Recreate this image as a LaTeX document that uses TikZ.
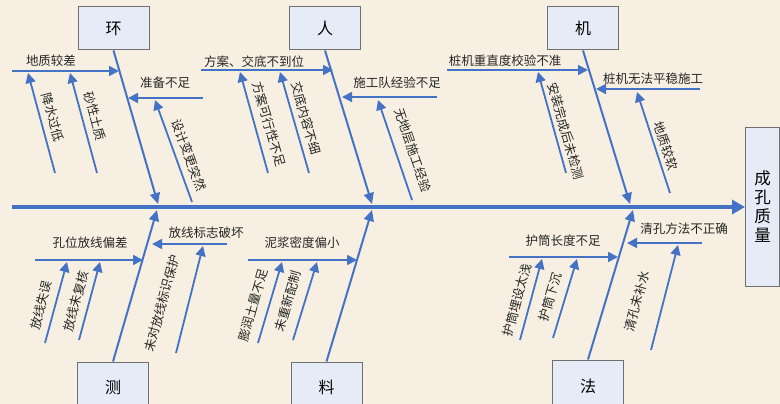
\documentclass[tikz,border=0pt]{standalone}
\usepackage{fontspec}
\newfontfamily\cjk{Noto Sans CJK SC}
\usetikzlibrary{arrows.meta}
\definecolor{fishblue}{RGB}{68,114,196}
\definecolor{boxfill}{RGB}{229,236,247}
\definecolor{boxline}{RGB}{112,112,112}
\definecolor{bgbeige}{RGB}{247,240,226}
\begin{document}
\begin{tikzpicture}[x=1pt,y=-1pt,
  bone/.style={draw=fishblue, line width=1.8pt, -{Triangle[length=10pt,width=10pt]}},
  mainbone/.style={draw=fishblue, line width=2pt, -{Triangle[length=11pt,width=10pt]}},
  spine/.style={draw=fishblue, line width=3.5pt, -{Triangle[length=13pt,width=14pt]}},
  lab/.style={font=\cjk\fontsize{12.5}{14}\selectfont, inner sep=0pt, text=black!85},
  catbox/.style={draw=boxline, fill=boxfill, line width=1pt, minimum width=71pt, minimum height=43pt, inner sep=0pt, font=\cjk\fontsize{16}{18}\selectfont},
  effbox/.style={draw=boxline, fill=boxfill, line width=1pt, minimum width=34pt, minimum height=159pt, inner sep=0pt, align=center, font=\cjk\fontsize{16.5}{19}\selectfont}
]
\useasboundingbox (0,0) rectangle (780,404);
\clip (0,0) rectangle (780,404);
\fill[bgbeige] (0,0) rectangle (780,404);

% category boxes
\node[catbox] (huan) at (113.5,28.5) {环};
\node[catbox] (ren)  at (325,28.5) {人};
\node[catbox] (ji)   at (583,28.5) {机};
\node[catbox, minimum height=50pt] (ce)  at (113,387) {测};
\node[catbox, minimum height=50pt] (liao) at (326.5,387) {料};
\node[catbox, minimum height=52pt] (fa)  at (588,386) {法};
\node[effbox] (eff) at (762.5,207) {成\\孔\\质\\量};

% spine
\coordinate (s0) at (12,207);
\draw[spine] (s0) -- (eff.west);

% main bones
\coordinate (hE) at (158,204);
\coordinate (rE) at (372,204);
\coordinate (jE) at (630,204);
\coordinate (cE) at (157,210);
\coordinate (lE) at (372,210);
\coordinate (fE) at (633,210);
\draw[mainbone] (huan.south) -- (hE);
\draw[mainbone] (ren.south) -- (rE);
\draw[mainbone] (ji.south) -- (jE);
\draw[mainbone] (ce.north) -- (cE);
\draw[mainbone] (liao.north) -- (lE);
\draw[mainbone] (fa.north) -- (fE);

% ===== 环 =====
\coordinate (a1s) at (12,71);   \coordinate (a1e) at (119,71);
\draw[bone] (a1s) -- (a1e);
\node[lab] (ta1) at (51,61) {地质较差};
\coordinate (a1as) at (55,173); \coordinate (a1ae) at (28,73);
\draw[bone] (a1as) -- (a1ae);
\node[lab, rotate=-75] (ta1a) at (53,117) {降水过低};
\coordinate (a1bs) at (97,173); \coordinate (a1be) at (70,73);
\draw[bone] (a1bs) -- (a1be);
\node[lab, rotate=-75] (ta1b) at (95,116) {砂性土质};
\coordinate (a2s) at (203,98);  \coordinate (a2e) at (128,98);
\draw[bone] (a2s) -- (a2e);
\node[lab] (ta2) at (165,83) {准备不足};
\coordinate (a2as) at (192,202); \coordinate (a2ae) at (155,100);
\draw[bone] (a2as) -- (a2ae);
\node[lab, rotate=-70] (ta2a) at (189,155) {设计变更突然};

% ===== 人 =====
\coordinate (b1s) at (201,70);  \coordinate (b1e) at (333,70);
\draw[bone] (b1s) -- (b1e);
\node[lab] (tb1) at (254,62) {方案、交底不到位};
\coordinate (b1as) at (268,173); \coordinate (b1ae) at (240,72);
\draw[bone] (b1as) -- (b1ae);
\node[lab, rotate=-74] (tb1a) at (269,124) {方案可行性不足};
\coordinate (b1bs) at (309,173); \coordinate (b1be) at (280,72);
\draw[bone] (b1bs) -- (b1be);
\node[lab, rotate=-74] (tb1b) at (306,118) {交底内容不细};
\coordinate (b2s) at (437,97);  \coordinate (b2e) at (342,97);
\draw[bone] (b2s) -- (b2e);
\node[lab] (tb2) at (397,83) {施工队经验不足};
\coordinate (b2as) at (412,200); \coordinate (b2ae) at (378,100);
\draw[bone] (b2as) -- (b2ae);
\node[lab, rotate=-71] (tb2a) at (413,150) {无地层施工经验};

% ===== 机 =====
\coordinate (c1s) at (447,70);  \coordinate (c1e) at (588,70);
\draw[bone] (c1s) -- (c1e);
\node[lab] (tc1) at (505,61) {桩机重直度校验不准};
\coordinate (c1as) at (566,173); \coordinate (c1ae) at (538,72);
\draw[bone] (c1as) -- (c1ae);
\node[lab, rotate=-74] (tc1a) at (566,131) {安装完成后未检测};
\coordinate (c2s) at (700,89);  \coordinate (c2e) at (596,89);
\draw[bone] (c2s) -- (c2e);
\node[lab] (tc2) at (653,79) {桩机无法平稳施工};
\coordinate (c2as) at (670,193); \coordinate (c2ae) at (637,92);
\draw[bone] (c2as) -- (c2ae);
\node[lab, rotate=-72] (tc2a) at (666,146) {地质较软};

% ===== 测 =====
\coordinate (d1s) at (35,260);  \coordinate (d1e) at (143,260);
\draw[bone] (d1s) -- (d1e);
\node[lab] (td1) at (90,243) {孔位放线偏差};
\coordinate (d1as) at (45,343); \coordinate (d1ae) at (67,262);
\draw[bone] (d1as) -- (d1ae);
\node[lab, rotate=75] (td1a) at (41,305) {放线失误};
\coordinate (d1bs) at (79,340); \coordinate (d1be) at (100,262);
\draw[bone] (d1bs) -- (d1be);
\node[lab, rotate=75] (td1b) at (76,301) {放线未复核};
\coordinate (d2s) at (227,244); \coordinate (d2e) at (152,244);
\draw[bone] (d2s) -- (d2e);
\node[lab] (td2) at (206,233) {放线标志破坏};
\coordinate (d2as) at (176,353); \coordinate (d2ae) at (203,246);
\draw[bone] (d2as) -- (d2ae);
\node[lab, rotate=75] (td2a) at (162,303) {未对放线标识保护};

% ===== 料 =====
\coordinate (e1s) at (248,260); \coordinate (e1e) at (357,260);
\draw[bone] (e1s) -- (e1e);
\node[lab] (te1) at (302,243) {泥浆密度偏小};
\coordinate (e1as) at (258,343); \coordinate (e1ae) at (282,262);
\draw[bone] (e1as) -- (e1ae);
\node[lab, rotate=74] (te1a) at (253,305) {膨润土量不足};
\coordinate (e1bs) at (293,340); \coordinate (e1be) at (317,262);
\draw[bone] (e1bs) -- (e1be);
\node[lab, rotate=74] (te1b) at (288,301) {未重新配制};

% ===== 法 =====
\coordinate (f1s) at (509,257); \coordinate (f1e) at (618,257);
\draw[bone] (f1s) -- (f1e);
\node[lab] (tf1) at (563,241) {护筒长度不足};
\coordinate (f1as) at (520,340); \coordinate (f1ae) at (542,259);
\draw[bone] (f1as) -- (f1ae);
\node[lab, rotate=75] (tf1a) at (517,300) {护筒埋设太浅};
\coordinate (f1bs) at (553,338); \coordinate (f1be) at (577,259);
\draw[bone] (f1bs) -- (f1be);
\node[lab, rotate=74] (tf1b) at (550,297) {护筒下沉};
\coordinate (f2s) at (702,243); \coordinate (f2e) at (627,243);
\draw[bone] (f2s) -- (f2e);
\node[lab] (tf2) at (684,229) {清孔方法不正确};
\coordinate (f2as) at (651,350); \coordinate (f2ae) at (678,245);
\draw[bone] (f2as) -- (f2ae);
\node[lab, rotate=75] (tf2a) at (637,301) {清孔未补水};
\end{tikzpicture}
\end{document}
